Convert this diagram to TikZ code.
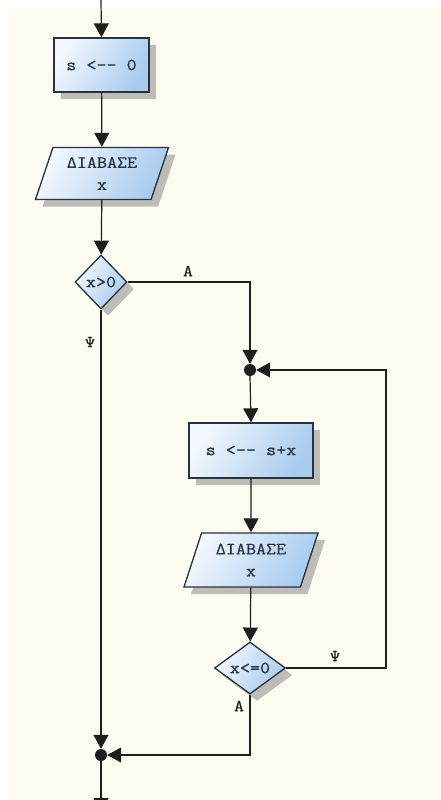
\documentclass[tikz,border=0pt]{standalone}
\usepackage{fontspec}
\newfontfamily\flowfont{Latin Modern Mono}[FakeBold=0.6, FakeStretch=1.15]
\usetikzlibrary{arrows.meta,shapes.geometric,shadows}
\definecolor{paper}{HTML}{FDFAEF}
\definecolor{boxlight}{HTML}{F2F7FD}
\definecolor{boxdark}{HTML}{A8CBEF}
\definecolor{shade}{HTML}{A8A8A8}
\definecolor{ink}{HTML}{1E1E1E}
\definecolor{edge}{HTML}{26323E}
\tikzset{
  txt/.style={font=\flowfont\fontsize{17}{22}\selectfont, text=edge},
  blockbase/.style={txt, draw=edge, line width=1.3pt, inner sep=0pt,
    left color=boxlight, right color=boxdark, shading angle=60,
    drop shadow={shadow xshift=7pt, shadow yshift=-7pt, fill=shade, opacity=0.75}},
  procbox/.style={blockbase, rectangle},
  iobox/.style={blockbase, trapezium, trapezium left angle=69, trapezium right angle=111,
    trapezium stretches=true, align=center},
  decision/.style={blockbase, diamond},
  junction/.style={circle, fill=ink, minimum size=12pt, inner sep=0pt},
  flow/.style={draw=ink, line width=1.2pt},
  tip/.style={-{Triangle[width=15pt,length=14pt]}},
  branch/.style={txt, inner sep=0pt, text=ink}
}
\begin{document}
\begin{tikzpicture}[x=1pt,y=-1pt]
  % page and sheet
  \fill[white] (0,0) rectangle (440,800);
  \fill[paper] (8,8) rectangle (440,800);
  \useasboundingbox (0,0) rectangle (440,800);
  \clip (0,0) rectangle (440,800);

  % blocks
  \node[procbox, minimum width=95pt, minimum height=54pt] (init) at (101.5,65) {s <-- 0};
  \node[iobox, minimum width=134pt, minimum height=52pt] (read1) at (102,173.5) {ΔΙΑΒΑΣΕ\\x};
  \node[decision, minimum width=52pt, minimum height=54pt] (cond1) at (101,282) {x>0};
  \node[junction] (j1) at (250,370) {};
  \node[procbox, minimum width=124pt, minimum height=55pt] (body) at (251,450.5) {s <-- s+x};
  \node[iobox, minimum width=135pt, minimum height=54pt] (read2) at (251,560) {ΔΙΑΒΑΣΕ\\x};
  \node[decision, minimum width=71pt, minimum height=52pt] (cond2) at (250,668) {x<=0};
  \node[junction] (j2) at (101,755) {};

  \coordinate (entry) at (101,0);
  \coordinate (exit) at (101,812);
  \coordinate (loopc) at (386,668);

  % connectors
  \draw[flow,tip] (entry) -- (init.north);
  \draw[flow,tip] (init) -- (read1);
  \draw[flow,tip] (read1) -- (cond1);
  \draw[flow,tip] (cond1.east) -| (j1.north);
  \draw[flow,tip] (cond1.south) -- (j2.north);
  \draw[flow,tip] (j1.south) -- (body.north);
  \draw[flow,tip] (body) -- (read2);
  \draw[flow,tip] (read2) -- (cond2);
  \draw[flow,tip] (cond2.east) -- (loopc) |- (j1.east);
  \draw[flow,tip] (cond2.south) |- (j2.east);
  \draw[flow,tip] (j2.south) -- (exit);

  % branch labels
  \node[branch] (a1) at (188,271) {Α};
  \node[branch] (p1) at (90,342) {Ψ};
  \node[branch] (p2) at (335,656) {Ψ};
  \node[branch] (a2) at (239,706) {Α};
\end{tikzpicture}
\end{document}
